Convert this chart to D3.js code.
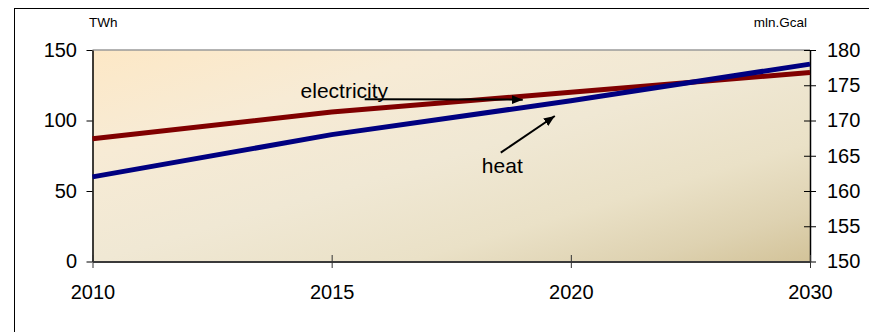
<!DOCTYPE html>
<html>
<head>
<meta charset="utf-8">
<script src="https://cdn.jsdelivr.net/npm/d3@7"></script>
<style>
  html, body { margin: 0; padding: 0; background: #fff; }
  svg { display: block; font-family: Arial, "Liberation Sans", sans-serif; }
</style>
</head>
<body>
<svg id="chart" width="869" height="332"></svg>
<script>
// Categories and series
const years = ["2010", "2015", "2020", "2030"];
const electricity = [87, 106, 120, 134];   // TWh, left axis
const heat = [162, 168, 172.8, 178];        // mln.Gcal, right axis
const leftTicks = [0, 50, 100, 150];
const rightTicks = [150, 155, 160, 165, 170, 175, 180];

const svg = d3.select("#chart");
const W = 869, H = 332;
const plot = { left: 92.5, right: 810, top: 50, bottom: 261.5 };

// Scales
const x = d3.scalePoint().domain(years).range([plot.left, plot.right]);
const xIdx = d3.scaleLinear().domain([0, years.length - 1]).range([plot.left, plot.right]);
const yL = d3.scaleLinear().domain([0, 150]).range([plot.bottom, plot.top]);
const yR = d3.scaleLinear().domain([150, 180]).range([plot.bottom, plot.top]);

// Outer frame
svg.append("rect")
  .attr("x", 14.5).attr("y", 8.5)
  .attr("width", W + 10).attr("height", H + 10)
  .attr("fill", "#fff").attr("stroke", "#000").attr("stroke-width", 1);

// Plot area background gradient
const defs = svg.append("defs");
const grad = defs.append("linearGradient").attr("id", "plotBg")
  .attr("x1", 0).attr("y1", 0).attr("x2", 1).attr("y2", 1);
[[0, "#fde8c6"], [0.25, "#f7ebd5"], [0.5, "#f0e8d4"], [0.72, "#eae1c7"], [0.88, "#ded2b1"], [1, "#d3c399"]]
  .forEach(([o, c]) => grad.append("stop").attr("offset", o).attr("stop-color", c));

svg.append("rect")
  .attr("x", plot.left).attr("y", plot.top)
  .attr("width", plot.right - plot.left).attr("height", plot.bottom - plot.top)
  .attr("fill", "url(#plotBg)");

// Top border of plot area
svg.append("line")
  .attr("x1", plot.left).attr("x2", plot.right)
  .attr("y1", plot.top).attr("y2", plot.top)
  .attr("stroke", "#9a9a9a").attr("stroke-width", 1.5);

// Arrow marker
defs.append("marker").attr("id", "arrow")
  .attr("markerUnits", "userSpaceOnUse")
  .attr("markerWidth", 12).attr("markerHeight", 10)
  .attr("refX", 11).attr("refY", 4.5)
  .attr("orient", "auto")
  .append("path").attr("d", "M0,0 L11,4.5 L0,9 Z").attr("fill", "#000");

const tickFont = "20px";

// Left axis
const gL = svg.append("g").attr("transform", `translate(${plot.left},0)`)
  .call(d3.axisLeft(yL).tickValues(leftTicks).tickSize(6).tickSizeOuter(0).tickPadding(9.5));
gL.select(".domain").attr("stroke", "#000").attr("stroke-width", 1.5);
gL.selectAll(".tick line").attr("stroke", "#000");
gL.selectAll(".tick text").attr("font-size", tickFont).attr("fill", "#000")
  .attr("font-family", "Arial, 'Liberation Sans', sans-serif");

// Right axis (cross ticks)
const gR = svg.append("g").attr("transform", `translate(${plot.right},0)`)
  .call(d3.axisRight(yR).tickValues(rightTicks).tickSize(6).tickSizeOuter(0).tickPadding(11));
gR.select(".domain").attr("stroke", "#000").attr("stroke-width", 1.5);
gR.selectAll(".tick line").attr("x1", -6).attr("stroke", "#000");
gR.selectAll(".tick text").attr("font-size", tickFont).attr("fill", "#000")
  .attr("font-family", "Arial, 'Liberation Sans', sans-serif");

// Bottom axis (cross ticks)
const gB = svg.append("g").attr("transform", `translate(0,${plot.bottom})`)
  .call(d3.axisBottom(x).tickSize(6.5).tickSizeOuter(0).tickPadding(17));
gB.select(".domain").attr("stroke", "#3a3a3a").attr("stroke-width", 2.2);
gB.selectAll(".tick line").attr("y1", -6.5).attr("stroke", "#333");
gB.selectAll(".tick text").attr("font-size", tickFont).attr("fill", "#000")
  .attr("font-family", "Arial, 'Liberation Sans', sans-serif");

// Unit labels
svg.append("text").attr("x", 89).attr("y", 27)
  .attr("font-size", "13.5px").attr("fill", "#000").text("TWh");
svg.append("text").attr("x", 807).attr("y", 27).attr("text-anchor", "end")
  .attr("font-size", "13.5px").attr("fill", "#000").text("mln.Gcal");

// Series lines
const lineL = d3.line().x((d, i) => x(years[i])).y(d => yL(d));
const lineR = d3.line().x((d, i) => x(years[i])).y(d => yR(d));

svg.append("path").datum(electricity)
  .attr("d", lineL).attr("fill", "none")
  .attr("stroke", "#800000").attr("stroke-width", 5);
svg.append("path").datum(heat)
  .attr("d", lineR).attr("fill", "none")
  .attr("stroke", "#000080").attr("stroke-width", 5);

// Annotations (positions in category index / left-axis units)
const notes = [
  { text: "electricity", tx: 0.870, ty: 116.2, from: [1.138, 115.0], to: [1.799, 114.8] },
  { text: "heat",        tx: 1.628, ty: 62.6,  from: [1.707, 77.2],  to: [1.933, 103.2] }
];
notes.forEach(n => {
  svg.append("text")
    .attr("x", xIdx(n.tx)).attr("y", yL(n.ty))
    .attr("font-size", "21px").attr("fill", "#000").text(n.text);
  svg.append("line")
    .attr("x1", xIdx(n.from[0])).attr("y1", yL(n.from[1]))
    .attr("x2", xIdx(n.to[0])).attr("y2", yL(n.to[1]))
    .attr("stroke", "#000").attr("stroke-width", 2)
    .attr("marker-end", "url(#arrow)");
});
</script>
</body>
</html>
